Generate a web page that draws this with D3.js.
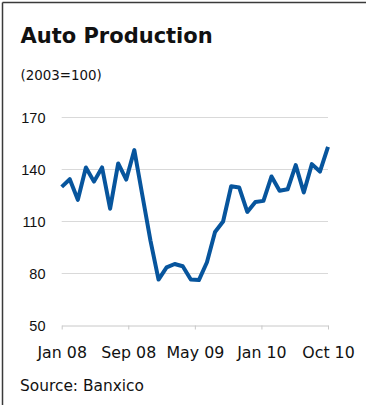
<!DOCTYPE html>
<html>
<head>
<meta charset="utf-8">
<script src="https://cdn.jsdelivr.net/npm/d3@7"></script>
<style>
  html, body { margin: 0; padding: 0; background: #fff; }
  svg { display: block; }
</style>
</head>
<body>
<svg id="chart" width="366" height="405"></svg>
<script>
// Monthly auto production index, Jan 2008 – Oct 2010 (2003=100)
const months = [
  "Jan 08","Feb 08","Mar 08","Apr 08","May 08","Jun 08","Jul 08","Aug 08","Sep 08","Oct 08","Nov 08","Dec 08",
  "Jan 09","Feb 09","Mar 09","Apr 09","May 09","Jun 09","Jul 09","Aug 09","Sep 09","Oct 09","Nov 09","Dec 09",
  "Jan 10","Feb 10","Mar 10","Apr 10","May 10","Jun 10","Jul 10","Aug 10","Sep 10","Oct 10"
];
const production = [
  130, 134.4, 122.5, 141.2, 133, 141.2, 117.4, 143.5, 134.2, 151.2, 125, 99,
  76.5, 83.5, 85.5, 84.2, 76.5, 76.2, 86.5, 104, 110, 130.3, 129.6, 115.5,
  121.2, 121.9, 136, 127.7, 128.6, 142.5, 126.7, 143.1, 138.8, 153.1
];
const yTicks = [50, 80, 110, 140, 170];
const xTickLabels = ["Jan 08", "Sep 08", "May 09", "Jan 10", "Oct 10"];

const svg = d3.select("#chart");
const plot = { left: 61.7, right: 328, top: 117.5, bottom: 325.5 };

const x = d3.scaleLinear().domain([0, months.length - 1]).range([plot.left, plot.right]);
const y = d3.scaleLinear().domain([50, 170]).range([plot.bottom, plot.top]);

// frame: top and left rules
svg.append("line").attr("x1", 2.5).attr("x2", 366).attr("y1", 2.5).attr("y2", 2.5)
  .attr("stroke", "#3a3a3a").attr("stroke-width", 1.5);
svg.append("line").attr("x1", 2.5).attr("x2", 2.5).attr("y1", 2.5).attr("y2", 405)
  .attr("stroke", "#3a3a3a").attr("stroke-width", 1.5);

// titles
svg.append("text").attr("x", 20.5).attr("y", 42.5)
  .attr("font-family", "DejaVu Sans").attr("font-weight", "bold").attr("font-size", 21)
  .attr("fill", "#111").text("Auto Production");
svg.append("text").attr("x", 20.5).attr("y", 79.5)
  .attr("font-family", "DejaVu Sans").attr("font-size", 13.4)
  .attr("fill", "#111").text("(2003=100)");

// horizontal gridlines
svg.append("g").selectAll("line").data(yTicks.filter(d => d > 50)).join("line")
  .attr("x1", plot.left).attr("x2", plot.right)
  .attr("y1", d => y(d)).attr("y2", d => y(d))
  .attr("stroke", "#d9d9d9").attr("stroke-width", 1);

// y tick labels
svg.append("g").selectAll("text").data(yTicks).join("text")
  .attr("x", 45.5).attr("y", d => y(d)).attr("dy", "0.36em")
  .attr("text-anchor", "end")
  .attr("font-family", "Liberation Sans").attr("font-size", 14.5)
  .attr("fill", "#111").text(d => d);

// x axis, ticks evenly spaced across the span
const n = months.length - 1;
const xTickPos = xTickLabels.map((_, i) => i * n / (xTickLabels.length - 1));
const xAxis = d3.axisBottom(x)
  .tickValues(xTickPos)
  .tickFormat((d, i) => xTickLabels[i])
  .tickSizeInner(4).tickSizeOuter(0).tickPadding(17);
const gx = svg.append("g").attr("transform", `translate(0,${plot.bottom})`).call(xAxis);
gx.select(".domain").attr("stroke", "#c8c8c8").attr("stroke-width", 1);
gx.selectAll(".tick line").attr("stroke", "#c8c8c8").attr("stroke-width", 1);
gx.selectAll(".tick text")
  .attr("font-family", "DejaVu Sans").attr("font-size", 15.8).attr("fill", "#111");

// production line
const line = d3.line().x((d, i) => x(i)).y(d => y(d));
svg.append("path").datum(production)
  .attr("d", line)
  .attr("fill", "none")
  .attr("stroke", "#07559d")
  .attr("stroke-width", 4)
  .attr("stroke-linejoin", "round")
  .attr("stroke-linecap", "butt");

// source note
svg.append("text").attr("x", 20).attr("y", 390.5)
  .attr("font-family", "DejaVu Sans").attr("font-size", 15.4)
  .attr("fill", "#111").text("Source: Banxico");
</script>
</body>
</html>
